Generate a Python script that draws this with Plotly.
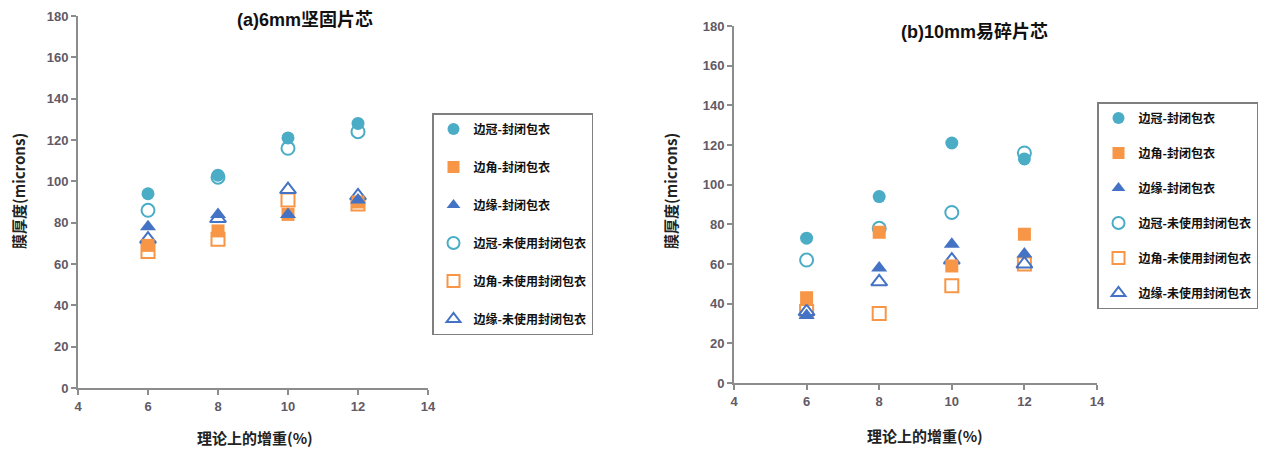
import plotly.graph_objects as go

W, H = 1282, 451          # target picture size
OFF = 8                   # default page body margin in the browser
FW, FH = W - OFF, H - OFF # figure size that fits the window

def px(x):
    return (x - OFF) / FW

def py(y):
    return 1 - (y - OFF) / FH

x_vals = [6, 8, 10, 12]
series_names = ["边冠-封闭包衣", "边角-封闭包衣", "边缘-封闭包衣",
                "边冠-未使用封闭包衣", "边角-未使用封闭包衣", "边缘-未使用封闭包衣"]

# (a) 6mm solid tablet cores
a_crown_coated = [94, 103, 121, 128]
a_corner_coated = [69, 76, 84, 90]
a_edge_coated = [78, 84, 84, 91]
a_crown_uncoated = [86, 102, 116, 124]
a_corner_uncoated = [66, 72, 91, 89]
a_edge_uncoated = [72, 82, 96, 93]

# (b) 10mm friable tablet cores
b_crown_coated = [73, 94, 121, 113]
b_corner_coated = [43, 76, 59, 75]
b_edge_coated = [34, 58, 70, 65]
b_crown_uncoated = [62, 78, 86, 116]
b_corner_uncoated = [36, 35, 49, 60]
b_edge_uncoated = [36, 51, 62, 60]

x_ticks = [4, 6, 8, 10, 12, 14]
y_ticks = [0, 20, 40, 60, 80, 100, 120, 140, 160, 180]

TEAL = "#4BACC6"
ORANGE = "#F79646"
BLUE = "#4472C4"
styles = [
    dict(symbol="circle", color=TEAL, open=False),
    dict(symbol="square", color=ORANGE, open=False),
    dict(symbol="triangle-up", color=BLUE, open=False),
    dict(symbol="circle-open", color=TEAL, open=True),
    dict(symbol="square-open", color=ORANGE, open=True),
    dict(symbol="triangle-up-open", color=BLUE, open=True),
]

CJK = "Noto Sans CJK SC"
fig = go.Figure()

def add_set(data, xa, ya, legend):
    order = [3, 4, 5, 0, 1, 2]
    for i in order:
        st = styles[i]
        fig.add_trace(go.Scatter(
            x=x_vals, y=data[i], mode="markers", name=series_names[i],
            xaxis=xa, yaxis=ya, legend=legend,
            legendgroup=legend + str(i), legendrank=i + 1,
            marker=dict(symbol=st["symbol"], size=13 if i % 3 != 2 else 14,
                        color=st["color"],
                        line=dict(width=2 if st["open"] else 0, color=st["color"])),
            showlegend=True,
        ))

add_set([a_crown_coated, a_corner_coated, a_edge_coated,
         a_crown_uncoated, a_corner_uncoated, a_edge_uncoated], "x", "y", "legend")
add_set([b_crown_coated, b_corner_coated, b_edge_coated,
         b_crown_uncoated, b_corner_uncoated, b_edge_uncoated], "x2", "y2", "legend2")

tickfont = dict(family="Arial, Liberation Sans", size=13, color="#5f5a66", weight="bold")
axis_common = dict(showgrid=False, zeroline=False, showline=True, linecolor="#8c8c8c",
                   linewidth=2, ticks="outside", ticklen=5, tickcolor="#8c8c8c",
                   tickwidth=1.5, tickfont=tickfont, automargin=False,
                   ticklabeloverflow="allow")

legend_common = dict(xanchor="left", yanchor="top",
                     bordercolor="#7f7f7f", borderwidth=1.5, bgcolor="white",
                     font=dict(family=CJK, size=12, color="#111", weight="bold"),
                     traceorder="grouped", itemsizing="constant")

fig.update_layout(
    width=FW, height=FH, margin=dict(l=0, r=0, t=0, b=0, autoexpand=False),
    paper_bgcolor="white", plot_bgcolor="white",
    xaxis=dict(domain=[px(78), px(428)], range=[4, 14], tickvals=x_ticks, anchor="y", **axis_common),
    yaxis=dict(domain=[py(388), py(16)], range=[0, 180], tickvals=y_ticks, anchor="x", **axis_common),
    xaxis2=dict(domain=[px(734), px(1097)], range=[4, 14], tickvals=x_ticks, anchor="y2", **axis_common),
    yaxis2=dict(domain=[py(383), py(26)], range=[0, 180], tickvals=y_ticks, anchor="x2", **axis_common),
    legend=dict(x=px(432), y=py(113), tracegroupgap=19, **legend_common),
    legend2=dict(x=px(1097), y=py(102), tracegroupgap=16, **legend_common),
    showlegend=True,
)

ann_font_title = dict(family="Arial, " + CJK, size=18, color="#111", weight="bold")
ann_font_axis = dict(family=CJK, size=15, color="#222", weight="bold")
annotations = [
    dict(text="(a)6mm坚固片芯", x=px(305), y=py(20), font=ann_font_title),
    dict(text="(b)10mm易碎片芯", x=px(974), y=py(32), font=ann_font_title),
    dict(text="膜厚度(microns)", x=px(18), y=py(191), font=ann_font_axis, textangle=-90),
    dict(text="膜厚度(microns)", x=px(670), y=py(191), font=ann_font_axis, textangle=-90),
    dict(text="理论上的增重(%)", x=px(255), y=py(437), font=ann_font_axis),
    dict(text="理论上的增重(%)", x=px(925), y=py(435), font=ann_font_axis),
]
for a in annotations:
    a.update(xref="paper", yref="paper", showarrow=False, xanchor="center", yanchor="middle")
fig.update_layout(annotations=annotations)

fig.write_html("out.html")
